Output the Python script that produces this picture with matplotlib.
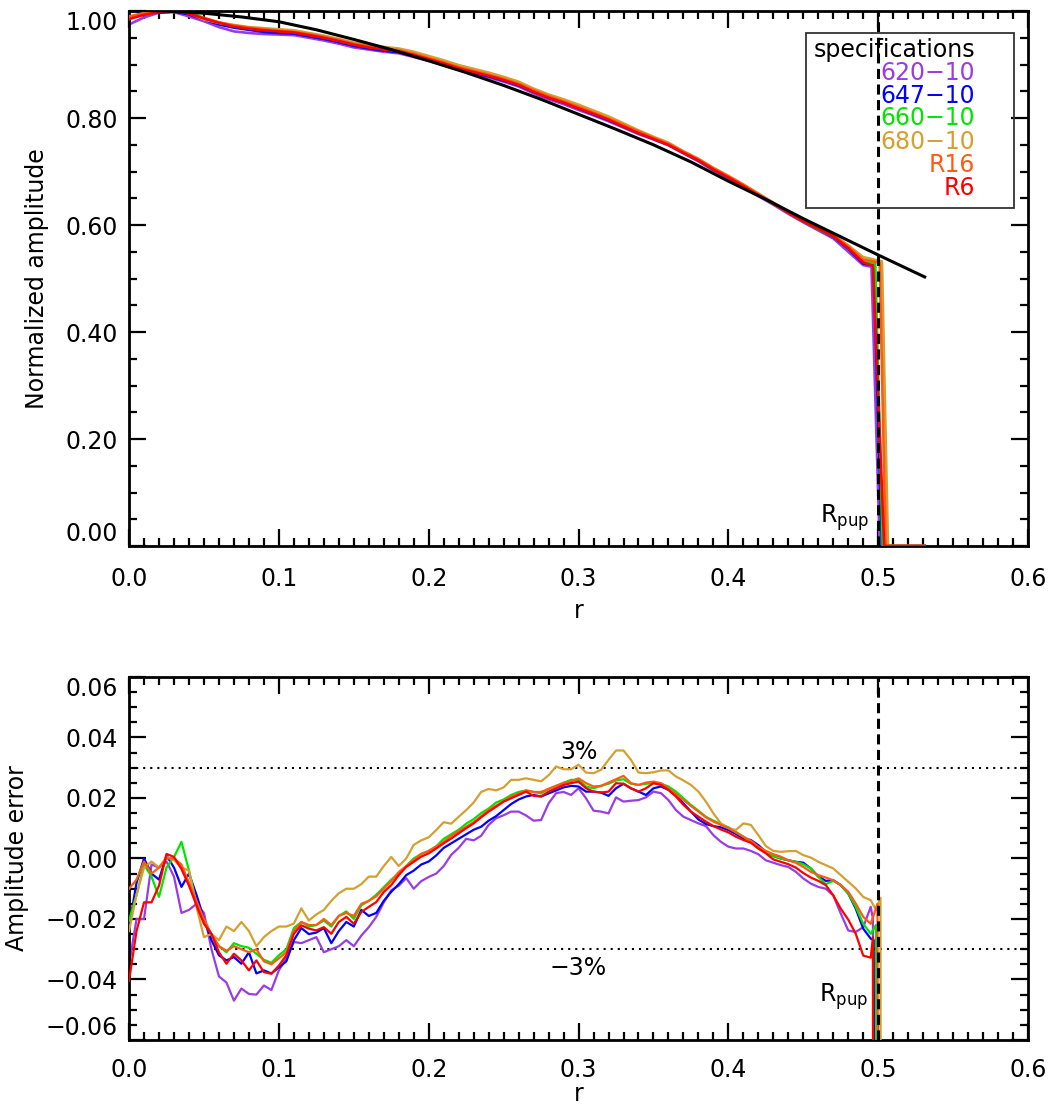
import numpy as np
import matplotlib
matplotlib.use('Agg')
import matplotlib.pyplot as plt
from matplotlib.ticker import MultipleLocator, FuncFormatter
from matplotlib.patches import Rectangle

plt.rcParams['font.family'] = ['DejaVu Sans']
plt.rcParams['font.size'] = 17

# ---------------- data ----------------
labels = ['620\u221210', '647\u221210', '660\u221210', '680\u221210', 'R16', 'R6']
colors = ['#9A3CE6', '#0000FF', '#00E600', '#D4A030', '#FF5A14', '#FF0000']

# model (black) curve, top panel
model_r = [0, 0.025, 0.05, 0.075, 0.10, 0.125, 0.15, 0.175, 0.20, 0.225, 0.25,
           0.275, 0.30, 0.325, 0.35, 0.375, 0.40, 0.425, 0.45, 0.475, 0.50, 0.531]
model_v = [1.002, 1.000, 0.996, 0.989, 0.980, 0.965, 0.947, 0.928, 0.907, 0.885,
           0.861, 0.835, 0.807, 0.779, 0.750, 0.718, 0.682, 0.648, 0.612, 0.578,
           0.544, 0.503]

# top panel measured profiles, r = 0.00 ... 0.49 step 0.01
r_top = np.round(np.arange(50) * 0.01, 2)
top_purple = [0.975, 0.988, 0.997, 0.998, 0.990, 0.981, 0.970, 0.962, 0.959, 0.957,
              0.956, 0.955, 0.950, 0.945, 0.939, 0.932, 0.928, 0.924, 0.921, 0.914,
              0.907, 0.899, 0.890, 0.883, 0.876, 0.868, 0.859, 0.846, 0.835, 0.826,
              0.815, 0.805, 0.794, 0.782, 0.770, 0.760, 0.749, 0.734, 0.719, 0.702,
              0.687, 0.671, 0.654, 0.638, 0.621, 0.605, 0.590, 0.575, 0.550, 0.525]
top_blue = [0.986, 0.998, 0.997, 0.999, 0.994, 0.984, 0.975, 0.969, 0.965, 0.961,
            0.959, 0.958, 0.953, 0.948, 0.942, 0.935, 0.930, 0.926, 0.923, 0.917,
            0.909, 0.901, 0.892, 0.885, 0.878, 0.870, 0.861, 0.849, 0.838, 0.829,
            0.818, 0.807, 0.796, 0.784, 0.772, 0.761, 0.750, 0.735, 0.721, 0.704,
            0.689, 0.673, 0.656, 0.640, 0.623, 0.607, 0.592, 0.578, 0.556, 0.528]
top_green = [0.988, 0.995, 1.000, 1.003, 0.997, 0.987, 0.978, 0.972, 0.968, 0.965,
             0.963, 0.961, 0.956, 0.951, 0.945, 0.938, 0.933, 0.929, 0.926, 0.920,
             0.912, 0.904, 0.895, 0.888, 0.881, 0.873, 0.864, 0.851, 0.840, 0.831,
             0.820, 0.809, 0.798, 0.786, 0.774, 0.762, 0.751, 0.736, 0.722, 0.705,
             0.690, 0.674, 0.657, 0.640, 0.623, 0.607, 0.592, 0.579, 0.558, 0.532]
top_gold = [0.985, 0.996, 0.999, 1.002, 0.996, 0.984, 0.978, 0.974, 0.970, 0.968,
            0.966, 0.964, 0.959, 0.954, 0.948, 0.941, 0.937, 0.933, 0.930, 0.924,
            0.916, 0.908, 0.899, 0.892, 0.885, 0.877, 0.868, 0.855, 0.844, 0.835,
            0.825, 0.814, 0.803, 0.790, 0.777, 0.765, 0.754, 0.738, 0.724, 0.707,
            0.692, 0.676, 0.659, 0.642, 0.625, 0.609, 0.595, 0.582, 0.562, 0.540]
top_r16 = [0.990, 0.996, 0.999, 1.001, 0.996, 0.987, 0.979, 0.973, 0.969, 0.966,
           0.963, 0.961, 0.957, 0.952, 0.946, 0.939, 0.934, 0.930, 0.927, 0.920,
           0.912, 0.904, 0.895, 0.888, 0.881, 0.873, 0.864, 0.852, 0.841, 0.831,
           0.821, 0.810, 0.799, 0.787, 0.775, 0.763, 0.752, 0.737, 0.723, 0.706,
           0.691, 0.675, 0.658, 0.641, 0.624, 0.608, 0.594, 0.580, 0.560, 0.535]
top_r6 = [0.985, 0.993, 0.998, 1.002, 0.995, 0.986, 0.978, 0.971, 0.967, 0.964,
          0.962, 0.960, 0.955, 0.950, 0.944, 0.937, 0.932, 0.928, 0.925, 0.918,
          0.910, 0.902, 0.893, 0.886, 0.879, 0.871, 0.862, 0.849, 0.838, 0.829,
          0.818, 0.808, 0.797, 0.784, 0.772, 0.761, 0.750, 0.735, 0.721, 0.704,
          0.689, 0.673, 0.656, 0.640, 0.623, 0.607, 0.593, 0.579, 0.557, 0.530]
# edge of pupil: (r, value) after r = 0.49
top_tail_r = [[0.4955, 0.501, 0.531], [0.497, 0.5025, 0.531], [0.498, 0.503, 0.531],
              [0.5025, 0.5065, 0.531], [0.501, 0.505, 0.531], [0.4965, 0.504, 0.531]]
top_tail_v = [[0.522, 0.0, 0.0], [0.525, 0.0, 0.0], [0.528, 0.0, 0.0],
              [0.532, 0.0, 0.0], [0.530, 0.0, 0.0], [0.524, 0.0, 0.0]]

# bottom panel amplitude error (x 1e-3), r = 0.000 ... 0.495 step 0.005
r_err = np.round(np.arange(100) * 0.005, 3)
err_purple = [-35, -20, -20, -2, -3, -1, -6, -18, -17, -15,
              -18, -30, -39, -41, -47, -43, -44.8, -45, -42, -43.5,
              -37, -33, -27.6, -28, -27, -26, -31, -30, -29, -27,
              -29, -25.5, -22.7, -19.3, -14.5, -10.5, -9, -6.5, -10, -7.5,
              -6.1, -5, -2.5, 1.2, 3.5, 6.5, 6, 7.5, 11.1, 13.3,
              14.3, 15.5, 15.5, 14.2, 12.5, 12.7, 18.2, 21.6, 22, 21,
              23.2, 19.9, 15.8, 15.5, 14.9, 20.2, 18.8, 19.1, 19.3, 20.2,
              22.1, 21.6, 19.3, 16, 13.8, 12.7, 11.6, 10.7, 7.7, 5.5,
              3.9, 3.3, 3.3, 2.5, 1.4, -0.6, -1.4, -2.2, -2.8, -4.4,
              -6.6, -8.3, -9.4, -10, -12.2, -18.2, -23.8, -24.3, -22.7, -16]
err_blue = [-22.7, -8, 0, -5, -7, 1, -3, -9.4, -5, -12,
            -20, -27, -32, -33.7, -32.6, -34.8, -31, -38, -37, -38,
            -36, -34, -27, -23, -25, -24.5, -23, -28, -24, -21,
            -22.5, -17, -19, -18, -14, -11, -8.5, -5.5, -4, -2,
            -1, 1, 3.5, 5, 6.5, 8, 9.5, 10.5, 12.5, 14,
            16, 18, 19.5, 20.5, 21, 20.5, 21.5, 22.5, 23.5, 24,
            23.8, 22.1, 22.1, 21.8, 20.7, 23.2, 24.7, 23.2, 22.1, 21,
            23.2, 23.8, 22.7, 20.7, 18.2, 15.5, 12.9, 11.4, 10.7, 10.3,
            9.4, 8.1, 6.6, 6.1, 4.4, 2.2, 0.8, 0, -0.6, -1.1,
            -1.4, -3.3, -5.9, -7.4, -7.2, -8.8, -11.6, -16.6, -23.2, -26.5]
err_green = [-20.5, -12, -2, -6, -12.7, -3, 0.5, 5.5, -4, -15,
             -21, -25, -29, -31, -28, -29, -29.5, -31.5, -33.5, -34.5,
             -32, -30, -23, -21, -22.5, -22, -20.5, -22.5, -19, -17.5,
             -20, -15.5, -14, -12, -9.5, -7, -5, -2.5, 0, 1.5,
             2.5, 4, 6.5, 8, 9.5, 11.5, 13, 15, 16.5, 18.5,
             19.5, 21, 22, 22.5, 22, 21.5, 23, 24, 25, 26,
             26, 23.8, 23.2, 24, 24.7, 25.8, 26.2, 24.7, 24.3, 24.7,
             24.9, 24.7, 23.8, 22.1, 19.9, 17.7, 15.8, 13.8, 12.5, 11.4,
             10.3, 8.8, 7.2, 5.5, 3.3, 1.9, 0.8, 0, -0.6, -1.1,
             -1.9, -3.3, -6.1, -8.5, -7.4, -8.8, -11.6, -16, -21.6, -24.9]
err_gold = [-24, -12, -3, -1, -3, 0.5, -0.5, -3, -4, -16,
            -26, -25, -27, -22.5, -24, -21, -24, -29, -26, -24,
            -22.5, -22.5, -21.5, -16.5, -20.5, -18.5, -17, -14, -11.5, -10,
            -10, -8.5, -6, -6, -2.5, 0.5, -2.5, 0, 4.5, 6,
            7, 9.4, 12, 11.5, 13.8, 16, 18.5, 22, 23, 22.5,
            23.5, 26, 26, 26.5, 26, 25.5, 27.5, 30.4, 29.5, 29.5,
            31, 28.4, 28.2, 29.3, 32.6, 35.7, 35.7, 32.6, 28.4, 28.2,
            28.5, 29.1, 29.1, 27.1, 25.8, 24.3, 22.1, 18.8, 14.9, 11.6,
            10, 9.4, 11.6, 11.1, 7.7, 4.1, 2.5, 2.2, 2.4, 2.5,
            1.1, 0.3, -1.1, -2.2, -3.3, -5.5, -7.7, -9.9, -12.7, -13.8]
err_r16 = [-10, -7, -1, -5, -3, 0, 0, -2, -8, -14,
           -20, -25, -29, -30.5, -29, -30, -31, -30, -34, -35,
           -33, -31, -24, -21, -22, -22, -20, -22, -19, -18,
           -19, -15, -14, -12.5, -10, -7.5, -4.5, -2.5, -0.5, 1.5,
           2.5, 4, 5.5, 7.5, 9, 10.5, 12, 14, 16, 17.5,
           19, 20.5, 21.5, 22.5, 22, 22, 23, 24, 25, 25.5,
           26.5, 24.9, 23.8, 24, 25.1, 26.2, 27.3, 24.9, 24.3, 25.1,
           25.4, 24.9, 23.2, 21.3, 19.3, 17.4, 15.5, 13.6, 12.2, 11.1,
           10, 8.6, 7.2, 5.9, 3.9, 2.5, 1.4, 0.6, -0.6, -1.4,
           -2.8, -4.4, -5.5, -6.3, -7.2, -8.8, -11, -14.9, -19.3, -21.6]
err_r6 = [-40.4, -24, -14.5, -14.5, -9, 1.5, 0.5, -3.5, -9, -15.5,
          -21.6, -24.9, -31, -34.8, -31.5, -33.7, -37, -33.7, -37.6, -38.1,
          -35.4, -32, -24.9, -22.1, -23.2, -23.8, -22.7, -24.9, -21, -19.3,
          -21.6, -17.7, -16, -14.4, -11.1, -8.8, -5.5, -2.8, -1.1, 0.6,
          1.7, 3.3, 5.0, 6.6, 8.3, 10, 11.6, 13.6, 15.5, 17.1,
          18.8, 19.9, 21, 22.1, 20.7, 20.5, 22.1, 23.2, 24.3, 24.9,
          25.4, 23.2, 22.1, 21.8, 22.1, 24.9, 24.7, 23.2, 22.1, 23.2,
          24.9, 24.3, 22.7, 20.5, 17.7, 15.5, 13.8, 12.2, 10.7, 9.6,
          8.6, 7.2, 6.1, 5.2, 3.3, 1.7, -0.3, -1.1, -1.9, -3,
          -4.8, -6.3, -7.4, -8.8, -12.2, -16.6, -20.2, -24.9, -32.1, -32.8]
err_tail_r = [[0.4965, 0.4975], [0.497, 0.4985], [0.4985, 0.5005],
              [0.4985, 0.5015, 0.5025], [0.4995, 0.5015], [0.4965, 0.497]]
err_tail_v = [[-20, -500], [-27, -500], [-22, -500],
              [-17, -13, -500], [-15, -500], [-26, -500]]

top_series = [top_purple, top_blue, top_green, top_gold, top_r16, top_r6]
err_series = [err_purple, err_blue, err_green, err_gold, err_r16, err_r6]


def fmt_minus(fmt):
    def f(x, pos):
        if abs(x) < 1e-9:
            x = 0.0
        return (fmt % x).replace('-', '\u2212')
    return FuncFormatter(f)


def style_axes(ax, xpad, ypad):
    for s in ax.spines.values():
        s.set_linewidth(2)
    ax.tick_params(which='both', direction='in', top=True, right=True, width=1.6)
    ax.tick_params(which='major', length=12)
    ax.tick_params(which='minor', length=6)
    ax.tick_params(axis='x', which='both', pad=xpad, labelsize=17)
    ax.tick_params(axis='y', which='both', pad=ypad, labelsize=17)


fig = plt.figure(figsize=(10.5, 11.06), dpi=100)
ax1 = fig.add_axes([0.1229, 0.5063, 0.8562, 0.4837])
ax2 = fig.add_axes([0.1229, 0.0597, 0.8562, 0.3282])

# ---------------- top panel ----------------
for i in range(6):
    xs = list(r_top) + top_tail_r[i]
    ys = list(top_series[i]) + top_tail_v[i]
    ax1.plot(xs, ys, color=colors[i], lw=1.9, zorder=2 + i)
ax1.plot(model_r, model_v, color='black', lw=2.2, zorder=10)
ax1.axvline(0.5, color='black', lw=2.2, linestyle=(0, (3.3, 1.8)), zorder=11)
ax1.text(0.494, 0.043, r'R$_{\mathrm{pup}}$', ha='right', va='baseline', fontsize=17)

ax1.set_xlim(0, 0.6)
ax1.set_ylim(0, 1.0)
ax1.xaxis.set_major_locator(MultipleLocator(0.1))
ax1.xaxis.set_minor_locator(MultipleLocator(0.01))
ax1.yaxis.set_major_locator(MultipleLocator(0.2))
ax1.yaxis.set_minor_locator(MultipleLocator(0.05))
ax1.xaxis.set_major_formatter(fmt_minus('%.1f'))
ax1.yaxis.set_major_formatter(fmt_minus('%.2f'))
style_axes(ax1, 15, 8)
ax1.set_xlabel('r', fontsize=17, labelpad=6)
ax1.set_ylabel('Normalized amplitude', fontsize=17, labelpad=12)

# legend box drawn by hand, right aligned text
ax1.add_patch(Rectangle((0.753, 0.632), 0.231, 0.327, transform=ax1.transAxes,
                        fill=False, edgecolor='#333333', lw=1.3, zorder=12))
ax1.text(0.941, 0.927, 'specifications', transform=ax1.transAxes, ha='right',
         va='center', fontsize=17, color='black', zorder=13)
leg_y = [0.884, 0.841, 0.800, 0.755, 0.712, 0.669]
for i in range(6):
    ax1.text(0.941, leg_y[i], labels[i], transform=ax1.transAxes, ha='right',
             va='center', fontsize=17, color=colors[i], zorder=13)

# ---------------- bottom panel ----------------
for i in range(6):
    xs = list(r_err) + err_tail_r[i]
    ys = [v / 1000.0 for v in list(err_series[i]) + err_tail_v[i]]
    ax2.plot(xs, ys, color=colors[i], lw=1.6, zorder=2 + i)
ax2.axhline(0.03, color='black', lw=1.5, linestyle=(0, (1, 2.4)), zorder=1)
ax2.axhline(-0.03, color='black', lw=1.5, linestyle=(0, (1, 2.4)), zorder=1)
ax2.axvline(0.5, color='black', lw=2.2, linestyle=(0, (3.3, 1.8)), zorder=11)
ax2.text(0.3, 0.0353, '3%', ha='center', va='center', fontsize=17)
ax2.text(0.3, -0.0362, '\u22123%', ha='center', va='center', fontsize=17)
ax2.text(0.493, -0.0475, r'R$_{\mathrm{pup}}$', ha='right', va='baseline', fontsize=17)

ax2.set_xlim(0, 0.6)
ax2.set_ylim(-0.06, 0.06)
ax2.xaxis.set_major_locator(MultipleLocator(0.1))
ax2.xaxis.set_minor_locator(MultipleLocator(0.01))
ax2.yaxis.set_major_locator(MultipleLocator(0.02))
ax2.yaxis.set_minor_locator(MultipleLocator(0.005))
ax2.xaxis.set_major_formatter(fmt_minus('%.1f'))
ax2.yaxis.set_major_formatter(fmt_minus('%.2f'))
style_axes(ax2, 13, 8)
ax2.set_xlabel('r', fontsize=17, labelpad=0)
ax2.set_ylabel('Amplitude error', fontsize=17, labelpad=12)

# end labels sit inside the axis range, as in the original
fig.canvas.draw()
for ax in (ax1, ax2):
    yt = ax.yaxis.get_major_ticks()
    lo, hi = ax.get_ylim()
    for t, loc in zip(yt, ax.yaxis.get_majorticklocs()):
        if abs(loc - hi) < 1e-9:
            t.label1.set_verticalalignment('top')
        elif abs(loc - lo) < 1e-9:
            t.label1.set_verticalalignment('bottom')

fig.savefig('out.png', dpi=100)
